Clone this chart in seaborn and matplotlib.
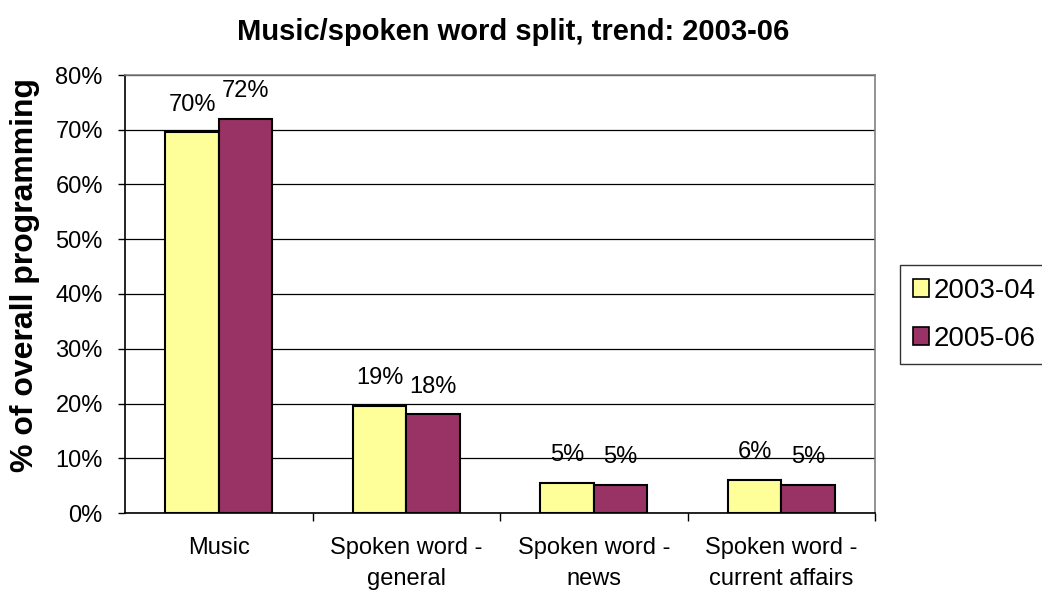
import matplotlib
matplotlib.use("Agg")
import matplotlib.pyplot as plt
import seaborn as sns
import pandas as pd

categories = ["Music", "Spoken word -\ngeneral", "Spoken word -\nnews", "Spoken word -\ncurrent affairs"]
years = ["2003-04", "2005-06"]
values_2003 = [69.5, 19.6, 5.5, 6.0]
values_2005 = [72.0, 18.0, 5.1, 5.1]
labels_2003 = ["70%", "19%", "5%", "6%"]
labels_2005 = ["72%", "18%", "5%", "5%"]
yticks = [0, 10, 20, 30, 40, 50, 60, 70, 80]
ytick_labels = ["0%", "10%", "20%", "30%", "40%", "50%", "60%", "70%", "80%"]
colors = ["#FFFF99", "#993366"]

sns.set_theme(style="white")
plt.rcParams['font.family'] = ['Liberation Sans', 'DejaVu Sans']
plt.rcParams['text.color'] = 'black'
plt.rcParams['xtick.color'] = 'black'
plt.rcParams['ytick.color'] = 'black'

df = pd.DataFrame({
    "category": categories * 2,
    "value": values_2003 + values_2005,
    "year": [years[0]] * 4 + [years[1]] * 4,
})

W, H = 1042, 592
fig = plt.figure(figsize=(W / 100, H / 100), dpi=100)
ax = fig.add_axes([125 / W, 1 - 513 / H, 750 / W, 438 / H])

sns.barplot(data=df, x="category", y="value", hue="year", order=categories,
            hue_order=years, palette=colors, width=0.57, saturation=1,
            edgecolor="black", linewidth=1.5, ax=ax, legend=True, zorder=3)

for cont, labs in zip(ax.containers, [labels_2003, labels_2005]):
    ax.bar_label(cont, labels=labs, padding=12, fontsize=17, color="black")

ax.set_ylim(0, 80)
ax.set_xlim(-0.5, 3.5)
ax.set_yticks(yticks)
ax.set_yticklabels(ytick_labels, fontsize=17)
ax.yaxis.grid(True, color="black", linewidth=0.9, zorder=0)
ax.set_axisbelow(True)
ax.tick_params(axis="y", direction="out", length=5, width=1, color="black", pad=11, left=True)
ax.set_xticks(range(4))
ax.set_xticklabels(categories, fontsize=17, linespacing=1.55)
ax.tick_params(axis="x", which="major", length=0, pad=17)
ax.set_xticks([0.5, 1.5, 2.5, 3.5], minor=True)
ax.tick_params(axis="x", which="minor", direction="out", length=6, width=1, color="black", bottom=True)
ax.set_xlabel("")
ax.set_ylabel("")

for s in ["left", "bottom"]:
    ax.spines[s].set_color("black")
    ax.spines[s].set_linewidth(1.2)
for s in ["top", "right"]:
    ax.spines[s].set_color("#808080")
    ax.spines[s].set_linewidth(1.2)

ax.legend_.remove()
handles = [plt.Rectangle((0, 0), 1, 1, facecolor=c, edgecolor="black", linewidth=1.2) for c in colors]
leg = fig.legend(handles, years, loc="upper left", bbox_to_anchor=(900 / W, 1 - 265 / H),
                 fontsize=20, frameon=True, fancybox=False, handlelength=0.6,
                 handleheight=0.6, handletextpad=0.15, borderpad=0.45, labelspacing=0.8,
                 borderaxespad=0)
leg.get_frame().set_edgecolor("black")
leg.get_frame().set_linewidth(1)

fig.text(513 / W, 1 - 32 / H, "Music/spoken word split, trend: 2003-06",
         ha="center", va="center", fontsize=21, fontweight="bold")
fig.text(25 / W, 1 - 275 / H, "% of overall programming", rotation=90,
         ha="center", va="center", fontsize=23, fontweight="bold")

fig.savefig("out.png", dpi=100)
